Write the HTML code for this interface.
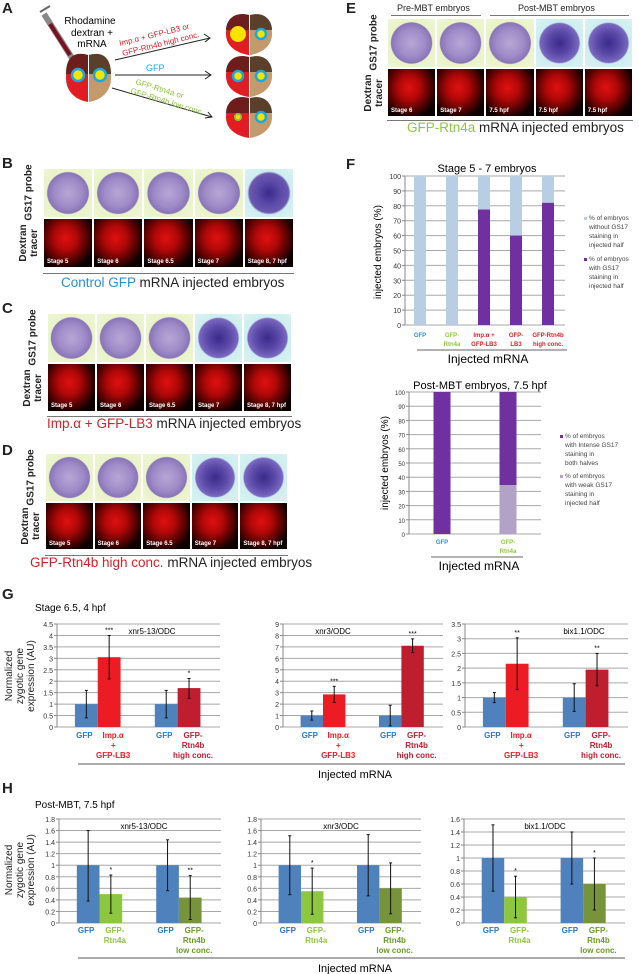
<!DOCTYPE html>
<html><head><meta charset="utf-8">
<style>
body{margin:0;background:#fff;}
#page{position:relative;width:639px;height:974px;overflow:hidden;font-family:"Liberation Sans",sans-serif;color:#222;}
.abs{position:absolute;}
.lbl{position:absolute;font-weight:bold;font-size:15px;}
.ph{position:absolute;box-sizing:border-box;border:1px solid #fff;overflow:hidden;}
.top{background:radial-gradient(circle at 50% 50%,#b8a6d6 0,#9f8cc8 40%,#8a74b8 60%,#e9f3c8 63%,#eef6d4 100%);}
.bot{background:radial-gradient(ellipse at 45% 40%,#e01010 0,#b00808 30%,#400 62%,#100 75%,#050000 100%);}
.st{position:absolute;left:3px;bottom:2px;color:#fff;font-size:6px;font-weight:bold;}
.rot{position:absolute;transform:rotate(-90deg);transform-origin:center;font-size:10px;text-align:center;line-height:11px;white-space:nowrap;}
.cap{position:absolute;font-size:13.5px;white-space:nowrap;}
</style></head>
<body><div id="page">

<div class="lbl" style="left:2px;top:0px">A</div>
<svg class="abs" style="left:0;top:0" width="320" height="150">
  <g>
    <line x1="44" y1="14" x2="72" y2="58" stroke="#888" stroke-width="6"/>
    <line x1="50" y1="24" x2="70" y2="55" stroke="#7a1020" stroke-width="4"/>
    <line x1="72" y1="58" x2="82" y2="72" stroke="#666" stroke-width="1"/>
    <line x1="40" y1="12" x2="50" y2="6" stroke="#666" stroke-width="2"/>
  </g>
  <text x="90" y="24" font-size="10" text-anchor="middle">Rhodamine</text>
  <text x="92" y="36" font-size="10" text-anchor="middle">dextran +</text>
  <text x="92" y="47" font-size="10" text-anchor="middle">mRNA</text>
  <g>
    <path d="M88 55 C70 50 66 62 66 78 C66 92 76 100 88 102 Z" fill="#e11d24"/>
    <path d="M88 55 C70 50 66 62 66 74 L88 74 Z" fill="#6e1d1d"/>
    <path d="M89 55 C106 50 111 62 111 78 C111 92 101 100 89 102 Z" fill="#c49a6c"/>
    <path d="M89 55 C106 50 111 62 111 74 L89 74 Z" fill="#5a3f2a"/>
    <circle cx="78" cy="75" r="6" fill="#f5e400" stroke="#19a9e1" stroke-width="2.5"/>
    <circle cx="100" cy="75" r="6" fill="#f5e400" stroke="#19a9e1" stroke-width="2.5"/>
  </g>
  <line x1="115" y1="60" x2="210" y2="38" stroke="#222"/><path d="M204 34 L210 38 L205 42" fill="none" stroke="#222"/>
  <line x1="115" y1="75" x2="210" y2="75" stroke="#222"/><path d="M205 71 L211 75 L205 79" fill="none" stroke="#222"/>
  <line x1="112" y1="88" x2="212" y2="117" stroke="#222"/><path d="M205 118 L212 117 L208 112" fill="none" stroke="#222"/>
  <text x="120" y="46" font-size="8" fill="#d2232a" transform="rotate(-14 120 46)">Imp.α + GFP-LB3 or</text>
  <text x="123" y="56" font-size="8" fill="#d2232a" transform="rotate(-14 123 56)">GFP-Rtn4b high conc.</text>
  <text x="146" y="71" font-size="9" fill="#19a9e1">GFP</text>
  <text x="135" y="84" font-size="8" fill="#8dc63f" transform="rotate(17 135 84)">GFP-Rtn4a or</text>
  <text x="130" y="93" font-size="8" fill="#8dc63f" transform="rotate(17 130 93)">GFP-Rtn4b low conc.</text>
  <g>
    <path d="M249 15 C232 11 226 22 226 34 C226 46 236 53 249 55 Z" fill="#e11d24"/>
    <path d="M249 15 C232 11 226 22 226 30 L249 30 Z" fill="#6e1d1d"/>
    <path d="M250 15 C266 11 272 22 272 34 C272 46 262 53 250 55 Z" fill="#c49a6c"/>
    <path d="M250 15 C266 11 272 22 272 30 L250 30 Z" fill="#5a3f2a"/>
    <circle cx="238" cy="34" r="8" fill="#f5e400"/>
    <circle cx="261" cy="34" r="5" fill="#f5e400" stroke="#19a9e1" stroke-width="2.5"/>
    <path d="M249 57 C232 53 226 64 226 76 C226 88 236 95 249 97 Z" fill="#e11d24"/>
    <path d="M249 57 C232 53 226 64 226 72 L249 72 Z" fill="#6e1d1d"/>
    <path d="M250 57 C266 53 272 64 272 76 C272 88 262 95 250 97 Z" fill="#c49a6c"/>
    <path d="M250 57 C266 53 272 64 272 72 L250 72 Z" fill="#5a3f2a"/>
    <circle cx="238" cy="76" r="5" fill="#f5e400" stroke="#19a9e1" stroke-width="2.5"/>
    <circle cx="261" cy="76" r="5" fill="#f5e400" stroke="#19a9e1" stroke-width="2.5"/>
    <path d="M249 98 C232 94 226 105 226 117 C226 129 236 136 249 138 Z" fill="#e11d24"/>
    <path d="M249 98 C232 94 226 105 226 113 L249 113 Z" fill="#6e1d1d"/>
    <path d="M250 98 C266 94 272 105 272 117 C272 129 262 136 250 138 Z" fill="#c49a6c"/>
    <path d="M250 98 C266 94 272 105 272 113 L250 113 Z" fill="#5a3f2a"/>
    <circle cx="238" cy="117" r="3" fill="#f5e400" stroke="#8dc63f" stroke-width="2"/>
    <circle cx="261" cy="117" r="5" fill="#f5e400" stroke="#19a9e1" stroke-width="2.5"/>
  </g>
</svg>

<div class="lbl" style="left:2px;top:155px">B</div>
<div class="lbl" style="left:2px;top:300px">C</div>
<div class="lbl" style="left:2px;top:442px">D</div>
<div class="lbl" style="left:346px;top:0px">E</div>
<div class="lbl" style="left:346px;top:156px">F</div>
<div class="lbl" style="left:2px;top:586px">G</div>
<div class="lbl" style="left:2px;top:780px">H</div>

<div class="cap" style="left:61px;top:275px"><span style="color:#2b8fd4">Control GFP</span> mRNA injected embryos</div>
<div class="cap" style="left:47px;top:416px"><span style="color:#d2232a">Imp.α + GFP-LB3</span> mRNA injected embryos</div>
<div class="cap" style="left:30px;top:555px"><span style="color:#d2232a">GFP-Rtn4b high conc.</span> mRNA injected embryos</div>
<div class="cap" style="left:407px;top:120px"><span style="color:#8dc63f">GFP-Rtn4a</span> mRNA injected embryos</div>
<div class="abs" style="left:397px;top:3px;font-size:9px">Pre-MBT embryos</div>
<div class="abs" style="left:518px;top:3px;font-size:9px">Post-MBT embryos</div>
<div class="abs" style="left:391px;top:15px;width:90px;border-top:1px solid #777"></div>
<div class="abs" style="left:490px;top:15px;width:139px;border-top:1px solid #777"></div>

<svg id="charts" class="abs" style="left:0;top:0" width="639" height="974"></svg>

<script>
const bStages=["Stage 5","Stage 6","Stage 6.5","Stage 7","Stage 8, 7 hpf"];
const eStages=["Stage 6","Stage 7","7.5 hpf","7.5 hpf","7.5 hpf"];
const page=document.getElementById('page');
function photoPanel(name,x0,x1,yTop,yMid,yBot,stages,lineY,lblCenter){
  const w=(x1-x0)/stages.length;
  stages.forEach((s,i)=>{
    const t=document.createElement('div');
    t.className='ph top';
    t.style.cssText+=`left:${x0+i*w}px;top:${yTop}px;width:${w}px;height:${yMid-yTop}px;`;
    
    
    if(i>=stages.length-2 && name!=='panel-b') t.style.background='radial-gradient(circle at 50% 50%,#3a2a8a 0,#5b4aa8 35%,#7a68c0 58%,#cfeef0 62%,#d8f2f0 100%)';
    if(i===stages.length-1 && name==='panel-b') t.style.background='radial-gradient(circle at 50% 50%,#3a2a8a 0,#5b4aa8 35%,#6a58b0 58%,#cfeef0 64%,#d8f2f0 100%)';
    page.appendChild(t);
    const b=document.createElement('div');
    b.className='ph bot';
    b.style.cssText+=`left:${x0+i*w}px;top:${yMid}px;width:${w}px;height:${yBot-yMid}px;`;
    
    
    const st=document.createElement('div');
    st.className='st'; st.textContent=s;
    
    
    b.appendChild(st);
    page.appendChild(b);
  });
  const r1=document.createElement('div');
  r1.className='rot'; r1.innerHTML='<b>GS17 probe</b>';
  r1.style.cssText+=`left:${lblCenter-35}px;top:${(yTop+yMid)/2-6}px;width:70px;`;
  
  
  page.appendChild(r1);
  const r2=document.createElement('div');
  r2.className='rot'; r2.innerHTML='<b>Dextran<br>tracer</b>';
  r2.style.cssText+=`left:${lblCenter-35}px;top:${(yMid+yBot)/2-11}px;width:70px;`;
  
  
  page.appendChild(r2);
  const l=document.createElement('div');
  l.className='abs'; l.style.cssText=`left:${x0}px;top:${lineY}px;width:${x1-x0}px;border-top:1px solid #777;`;
  
  
  page.appendChild(l);
}
photoPanel('panel-b',43,294,168,218,268,bStages,273,29);
photoPanel('panel-c',47,292,313,363,412,bStages,416,33);
photoPanel('panel-d',45,288,453,502,550,bStages,555,31);
photoPanel('panel-e',387,633,18,68,117,eStages,120,374);

const fTopCats=["GFP","GFP-\nRtn4a","Imp.α +\nGFP-LB3","GFP-\nLB3","GFP-Rtn4b\nhigh conc."];
const fTopCatColors=["#2b8fd4","#8dc63f","#d2232a","#d2232a","#d2232a"];
const fTopWith=[0,0,77.5,60,82];
const fBotCats=["GFP","GFP-\nRtn4a"];
const fBotCatColors=["#2b8fd4","#8dc63f"];
const fBotWeak=[0,34.5];
const fTicks=[0,10,20,30,40,50,60,70,80,90,100];

const gCats=["GFP","Imp.α\n+\nGFP-LB3","GFP","GFP-\nRtn4b\nhigh conc."];
const hCats=["GFP","GFP-\nRtn4a","GFP","GFP-\nRtn4b\nlow conc."];
const g1Values=[1,3.05,1,1.7], g1Lo=[0.4,2.1,0.4,1.25], g1Hi=[1.6,4.0,1.6,2.12], g1Stars=["","***","","*"];
const g2Values=[1,2.85,1,7.1], g2Lo=[0.6,2.15,0.1,6.5], g2Hi=[1.4,3.55,1.9,7.7], g2Stars=["","***","","***"];
const g3Values=[1,2.15,1,1.95], g3Lo=[0.83,1.27,0.53,1.4], g3Hi=[1.17,3.03,1.47,2.5], g3Stars=["","**","","**"];
const h1Values=[1,0.5,1,0.44], h1Lo=[0.38,0.17,0.56,0.06], h1Hi=[1.6,0.83,1.44,0.82], h1Stars=["","*","","**"];
const h2Values=[1,0.55,1,0.6], h2Lo=[0.49,0.15,0.47,0.16], h2Hi=[1.51,0.95,1.53,1.04], h2Stars=["","*","",""];
const h3Values=[1,0.4,1,0.6], h3Lo=[0.49,0.08,0.6,0.2], h3Hi=[1.51,0.72,1.4,1.0], h3Stars=["","*","","*"];
const g1Ticks=[0,0.5,1,1.5,2,2.5,3,3.5,4,4.5];
const g2Ticks=[0,1,2,3,4,5,6,7,8,9];
const g3Ticks=[0,0.5,1,1.5,2,2.5,3,3.5];
const h12Ticks=[0,0.2,0.4,0.6,0.8,1,1.2,1.4,1.6,1.8];
const h3Ticks=[0,0.2,0.4,0.6,0.8,1,1.2,1.4,1.6];

const NS='http://www.w3.org/2000/svg';
const svg=document.getElementById('charts');
function mk(tag,attrs,parent,text){
  const e=document.createElementNS(NS,tag);
  for(const k in attrs) e.setAttribute(k,attrs[k]);
  if(text!==undefined) e.textContent=text;
  (parent||svg).appendChild(e); return e;
}
function multiText(parent,x,y,str,size,color,lh,name){
  const t=mk('text',{x:x,y:y,'font-size':size,fill:color,'text-anchor':'middle'},parent);
  
  
  str.split('\n').forEach((s,i)=>{mk('tspan',{x:x,dy:i?lh:0},t,s);});
  return t;
}
function gridAxis(g,x0,x1,yTop,yBot,ticks,fmt,fs){
  const max=ticks[ticks.length-1];
  const y=v=>yBot-(v/max)*(yBot-yTop);
  ticks.forEach(v=>{
    const l=mk('line',{x1:x0,x2:x1,y1:y(v),y2:y(v),stroke:'#a8a8a8','stroke-width':1},g);
    
    
    mk('line',{x1:x0-3,x2:x0,y1:y(v),y2:y(v),stroke:'#888'},g);
    const t=mk('text',{x:x0-4,y:y(v)+3,'font-size':fs,'text-anchor':'end',fill:'#333'},g,fmt(v));
    
    
  });
  mk('line',{x1:x0,x2:x0,y1:yTop,y2:yBot,stroke:'#888'},g);
  return y;
}

(function(){
  const g=mk('g',{});  
  const x0=405,x1=565,yTop=176,yBot=325;
  const y=gridAxis(g,x0,x1,yTop,yBot,fTicks,v=>String(v),7);
  const t=mk('text',{x:487,y:172,'font-size':11,'text-anchor':'middle'},g,'Stage 5 - 7 embryos');
   
  const step=(x1-x0)/fTopCats.length, bw=12;
  fTopCats.forEach((c,i)=>{
    const cx=x0+step*(i+0.5)-1;
    const a=mk('rect',{x:cx-bw/2,y:y(100),width:bw,height:y(fTopWith[i])-y(100),fill:'#b9cde5'},g);
     
    const b=mk('rect',{x:cx-bw/2,y:y(fTopWith[i]),width:bw,height:yBot-y(fTopWith[i]),fill:'#7030a0'},g);
     
    multiText(g,cx,337,c,6,fTopCatColors[i],9,'x-category-label').setAttribute('font-weight','bold');
  });
  mk('line',{x1:417,x2:567,y1:350,y2:350,stroke:'#666'},g);
  const xt=mk('text',{x:488,y:363,'font-size':12,'text-anchor':'middle'},g,'Injected mRNA');
   
  const yt=mk('text',{x:0,y:0,'font-size':10,'text-anchor':'middle',transform:'translate(381,252) rotate(-90)'},g,'injected embryos (%)');
   
  const lg=mk('g',{},g);  
  mk('rect',{x:584,y:217,width:3,height:3,fill:'#b9cde5'},lg);
  multiText(lg,0,220,"% of embryos\nwithout GS17\nstaining in\ninjected half",6.5,'#444',9,'legend-entry-without').setAttribute('text-anchor','start');
  lg.lastChild.querySelectorAll('tspan').forEach(s=>s.setAttribute('x',589));
  mk('rect',{x:584,y:258,width:3,height:3,fill:'#7030a0'},lg);
  multiText(lg,0,261,"% of embryos\nwith GS17\nstaining in\ninjected half",6.5,'#444',9,'legend-entry-with').setAttribute('text-anchor','start');
  lg.lastChild.querySelectorAll('tspan').forEach(s=>s.setAttribute('x',589));
})();

(function(){
  const g=mk('g',{});  
  const x0=409,x1=541,yTop=392,yBot=534;
  const y=gridAxis(g,x0,x1,yTop,yBot,fTicks,v=>String(v),6);
  const t=mk('text',{x:480,y:389,'font-size':11,'text-anchor':'middle'},g,'Post-MBT embryos, 7.5 hpf');
   
  const step=(x1-x0)/fBotCats.length, bw=17;
  fBotCats.forEach((c,i)=>{
    const cx=x0+step*(i+0.5);
    const a=mk('rect',{x:cx-bw/2,y:y(100),width:bw,height:y(fBotWeak[i])-y(100),fill:'#7030a0'},g);
     
    const b=mk('rect',{x:cx-bw/2,y:y(fBotWeak[i]),width:bw,height:yBot-y(fBotWeak[i]),fill:'#b3a2c7'},g);
     
    multiText(g,cx,544,c,6,fBotCatColors[i],9,'x-category-label').setAttribute('font-weight','bold');
  });
  mk('line',{x1:431,x2:523,y1:557,y2:557,stroke:'#666'},g);
  const xt=mk('text',{x:479,y:570,'font-size':12,'text-anchor':'middle'},g,'Injected mRNA');
   
  const yt=mk('text',{x:0,y:0,'font-size':10,'text-anchor':'middle',transform:'translate(388,463) rotate(-90)'},g,'injected embryos (%)');
   
  const lg=mk('g',{},g);  
  mk('rect',{x:560,y:435,width:3,height:3,fill:'#7030a0'},lg);
  multiText(lg,0,438,"% of embryos\nwith Intense GS17\nstaining in\nboth halves",6.5,'#444',9,'legend-entry-intense').setAttribute('text-anchor','start');
  lg.lastChild.querySelectorAll('tspan').forEach(s=>s.setAttribute('x',565));
  mk('rect',{x:560,y:475,width:3,height:3,fill:'#b3a2c7'},lg);
  multiText(lg,0,478,"% of embryos\nwith weak GS17\nstaining in\ninjected half",6.5,'#444',9,'legend-entry-weak').setAttribute('text-anchor','start');
  lg.lastChild.querySelectorAll('tspan').forEach(s=>s.setAttribute('x',565));
})();

function qpcr(name,x0,x1,yTop,yBot,ticks,vals,lo,hi,stars,title,titleX,cats,colors,catColors,labY){
  const g=mk('g',{});  
  const y=gridAxis(g,x0,x1,yTop,yBot,ticks,v=>String(v),7);
  const w=x1-x0, bw=w*0.14;
  vals.forEach((v,i)=>{
    const grp=Math.floor(i/2), side=i%2;
    const cx=x0+w*(0.25+grp*0.49);
    const bx=side?cx:cx-bw;
    const r=mk('rect',{x:bx,y:y(v),width:bw,height:yBot-y(v),fill:colors[i]},g);
     
    const mx=bx+bw/2;
    const e=mk('line',{x1:mx,x2:mx,y1:y(hi[i]),y2:y(lo[i]),stroke:'#111','stroke-width':1},g);
     
    mk('line',{x1:mx-1.5,x2:mx+1.5,y1:y(hi[i]),y2:y(hi[i]),stroke:'#111'},g);
    mk('line',{x1:mx-1.5,x2:mx+1.5,y1:y(lo[i]),y2:y(lo[i]),stroke:'#111'},g);
    if(stars[i]){const s=mk('text',{x:mx,y:y(hi[i])-3,'font-size':7,'text-anchor':'middle'},g,stars[i]);
       }
    const lx=side?bx+bw/2+4:bx+bw/2-2;
    const t=multiText(g,lx,labY,cats[i],8,catColors[i],10,'x-category-label');
    t.setAttribute('font-weight','bold');
  });
  const tt=mk('text',{x:titleX,y:yTop+10,'font-size':8,'text-anchor':'middle'},g,title);
   
}
const gCol=["#4f81bd","#ed1c24","#4f81bd","#be1e2d"];
const gCatCol=["#2b78c2","#ed1c24","#2b78c2","#be1e2d"];
const hCol=["#4f81bd","#8dc63f","#4f81bd","#77933c"];
const hCatCol=["#2b78c2","#8dc63f","#2b78c2","#6a9a2a"];
qpcr('g-xnr5-chart',57,220,624,727,g1Ticks,g1Values,g1Lo,g1Hi,g1Stars,'xnr5-13/ODC',152,gCats,gCol,gCatCol,738);
qpcr('g-xnr3-chart',283,443,624,727,g2Ticks,g2Values,g2Lo,g2Hi,g2Stars,'xnr3/ODC',333,gCats,gCol,gCatCol,738);
qpcr('g-bix-chart',465,628,624,727,g3Ticks,g3Values,g3Lo,g3Hi,g3Stars,'bix1.1/ODC',584,gCats,gCol,gCatCol,738);
qpcr('h-xnr5-chart',59,221,819,923,h12Ticks,h1Values,h1Lo,h1Hi,h1Stars,'xnr5-13/ODC',144,hCats,hCol,hCatCol,933);
qpcr('h-xnr3-chart',261,421,819,923,h12Ticks,h2Values,h2Lo,h2Hi,h2Stars,'xnr3/ODC',341,hCats,hCol,hCatCol,933);
qpcr('h-bix-chart',464,625,819,923,h3Ticks,h3Values,h3Lo,h3Hi,h3Stars,'bix1.1/ODC',545,hCats,hCol,hCatCol,933);

[['Stage 6.5, 4 hpf',35,611,'g-subtitle'],['Post-MBT, 7.5 hpf',35,808,'h-subtitle']].forEach(a=>{
  const t=mk('text',{x:a[1],y:a[2],'font-size':10},svg,a[0]);
   
});
[[764,776,'g'],[958,970,'h']].forEach(a=>{
  mk('line',{x1:78,x2:625,y1:a[0],y2:a[0],stroke:'#555'});
  const t=mk('text',{x:355,y:a[1]+2,'font-size':11,'text-anchor':'middle'},svg,'Injected mRNA');
   
});
[[676,'g'],[870,'h']].forEach(a=>{
  const t=multiText(svg,0,0,"Normalized\nzygotic gene\nexpression (AU)",10,'#222',11,a[1]+'-y-axis-title');
  t.setAttribute('transform',`translate(12,${a[0]}) rotate(-90)`);
});
</script>
</div></body></html>
